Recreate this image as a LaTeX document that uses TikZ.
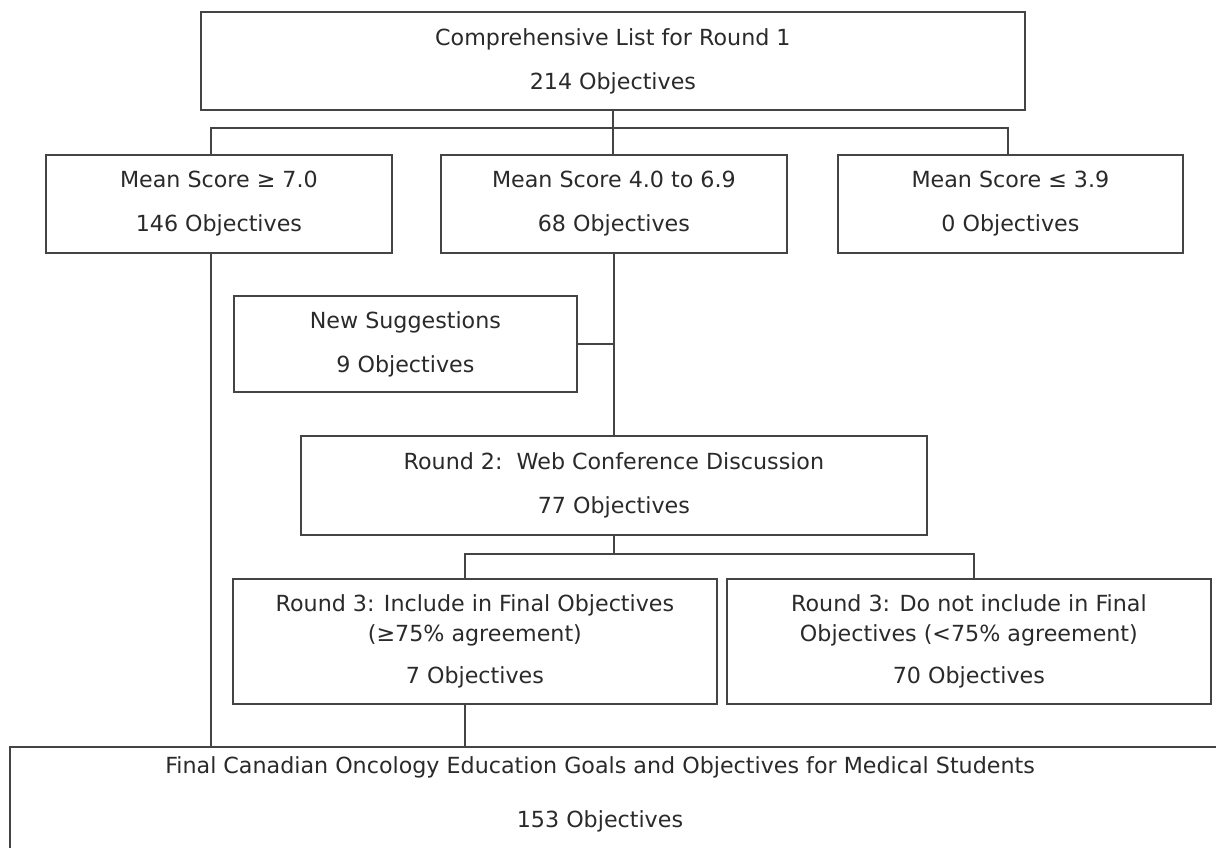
\documentclass[tikz,border=0pt]{standalone}
\usepackage{fontspec}
\setmainfont{DejaVu Sans}
\definecolor{linec}{HTML}{444444}
\definecolor{textc}{HTML}{2A2A2A}
\newcommand\boxfont{\fontsize{22.2}{30}\selectfont}
\begin{document}
\begin{tikzpicture}[x=1pt,y=-1pt,
  box/.style={draw=linec, line width=1.8pt, rectangle, anchor=north west, inner sep=0pt,
              align=center, text=textc, font=\boxfont},
  conn/.style={draw=linec, line width=1.8pt}]
\useasboundingbox (0,0) rectangle (1216,848);
\clip (0,0) rectangle (1216,848);
\fill[white] (0,0) rectangle (1216,848);

\node[box, minimum width=824, minimum height=98] (top) at (200,11)
  {Comprehensive List for Round 1\\[14pt]214 Objectives};
\node[box, minimum width=346, minimum height=98] (ms7) at (45,154)
  {Mean Score ≥ 7.0\\[14pt]146 Objectives};
\node[box, minimum width=346, minimum height=98] (ms4) at (440,154)
  {Mean Score 4.0 to 6.9\\[14pt]68 Objectives};
\node[box, minimum width=345, minimum height=98] (ms3) at (837,154)
  {Mean Score ≤ 3.9\\[14pt]0 Objectives};
\node[box, minimum width=343, minimum height=96] (ns) at (233,295)
  {New Suggestions\\[14pt]9 Objectives};
\node[box, minimum width=626, minimum height=99] (r2) at (300,435)
  {Round 2:\ \ Web Conference Discussion\\[14pt]77 Objectives};
\node[box, minimum width=484, minimum height=125] (r3a) at (232,578)
  {Round 3: Include in Final Objectives\\(≥75\% agreement)\\[12pt]7 Objectives};
\node[box, minimum width=484, minimum height=125] (r3b) at (726,578)
  {Round 3: Do not include in Final\\Objectives (<75\% agreement)\\[12pt]70 Objectives};
\node[box, minimum width=1240, minimum height=110] (fin) at (9,746) {};
\node[text=textc, font=\boxfont, align=center, inner sep=0pt] (fintxt) at (600,794)
  {Final Canadian Oncology Education Goals and Objectives for Medical Students\\[24pt]153 Objectives};

\coordinate (b1l) at (211,128);
\coordinate (b1r) at (1008,128);
\coordinate (b2l) at (465,554);
\coordinate (b2r) at (974,554);

\draw[conn] (top.south) -- (top.south |- ms4.north);
\draw[conn] (b1l |- ms7.north) -- (b1l) -- (b1r) -- (b1r |- ms3.north);
\draw[conn] (b1l |- ms7.south) -- (b1l |- fin.north);
\draw[conn] (ms4.south) -- (ms4.south |- r2.north);
\draw[conn] (ns.east) -- (ns.east -| ms4.south);
\draw[conn] (r2.south) -- (r2.south |- b2l);
\draw[conn] (b2l |- r3a.north) -- (b2l) -- (b2r) -- (b2r |- r3b.north);
\draw[conn] (b2l |- r3a.south) -- (b2l |- fin.north);
\end{tikzpicture}
\end{document}
